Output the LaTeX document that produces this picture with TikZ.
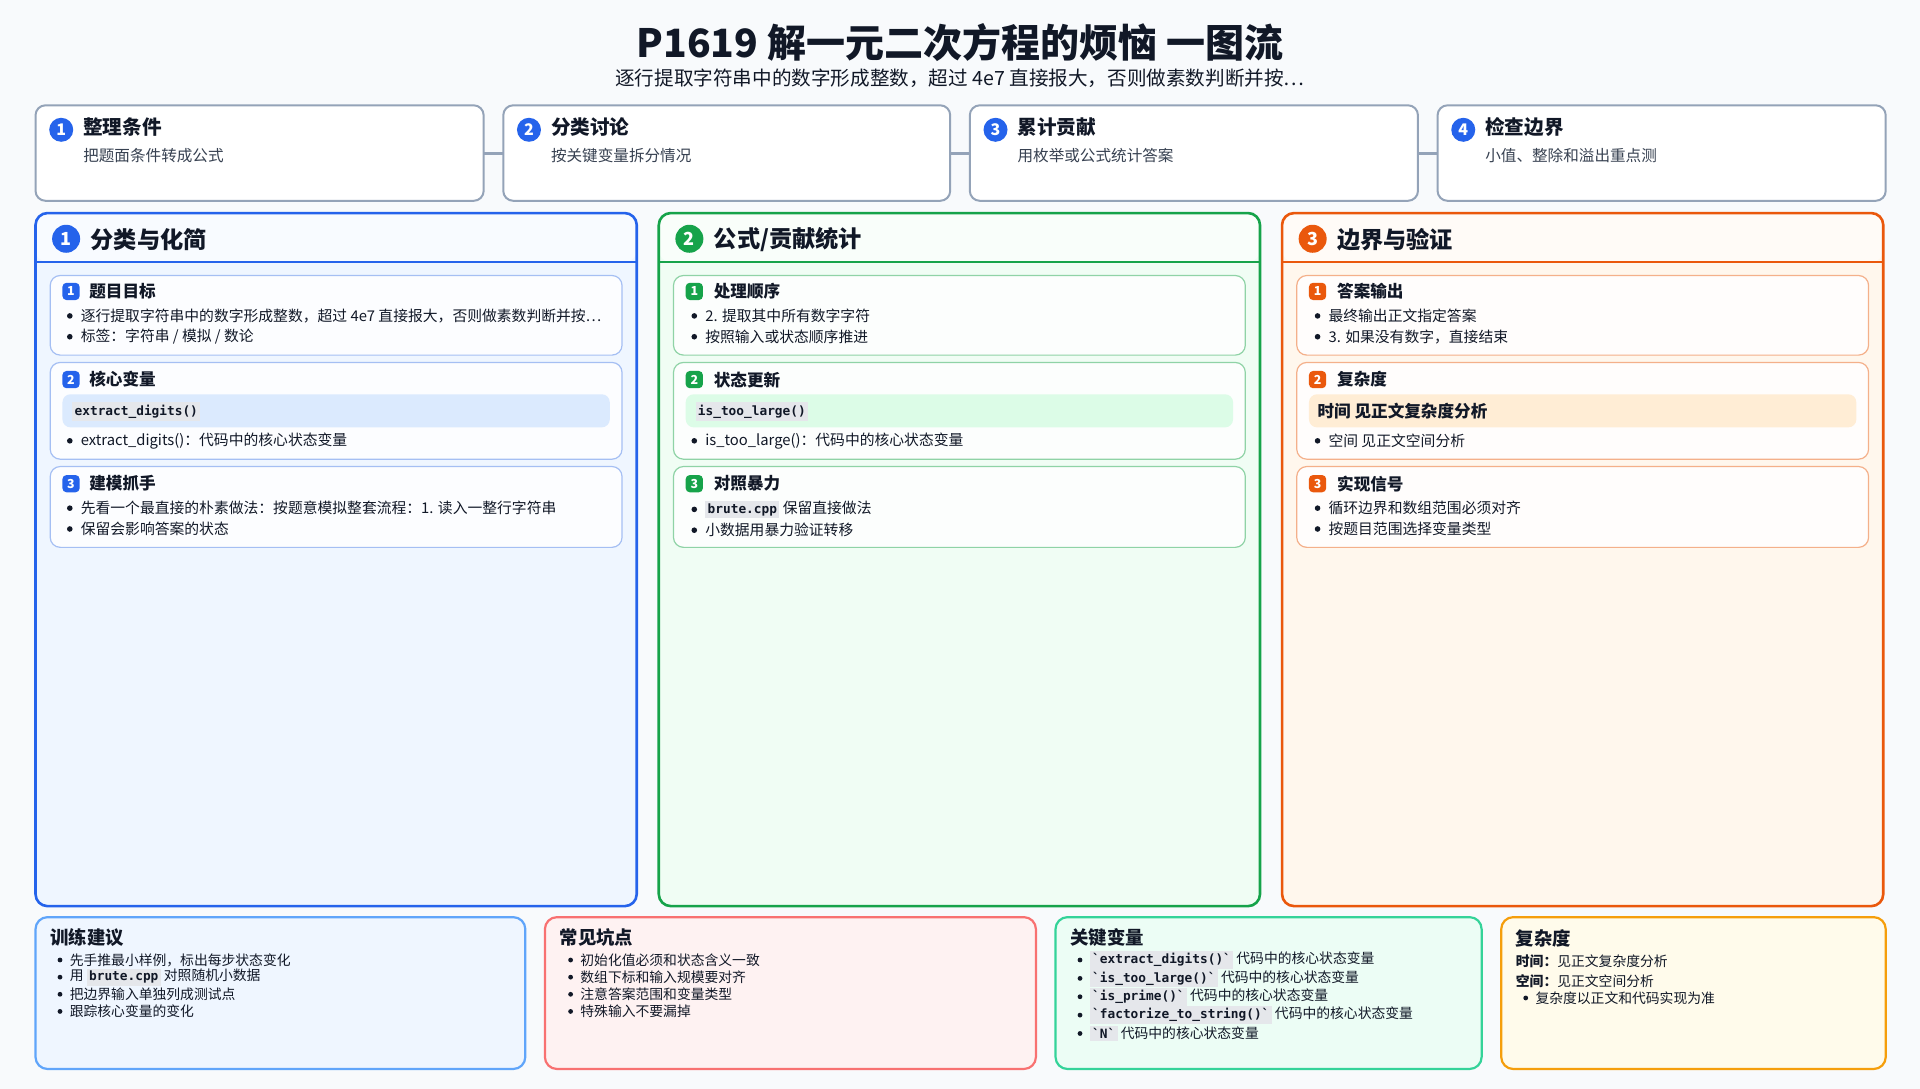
\documentclass[tikz,border=0pt]{standalone}
\usepackage{fontspec}
\setmainfont{Noto Sans CJK SC}
\setmonofont{DejaVu Sans Mono}
\usetikzlibrary{positioning}

\definecolor{bg}{HTML}{F8FAFC}
\definecolor{ink}{HTML}{111827}
\definecolor{sub}{HTML}{374151}
\definecolor{gray}{HTML}{94A3B8}
\definecolor{cblue}{HTML}{2563EB}
\definecolor{cgreen}{HTML}{16A34A}
\definecolor{corange}{HTML}{EA580C}
\definecolor{fblue}{HTML}{EFF6FF}
\definecolor{fgreen}{HTML}{F0FDF4}
\definecolor{forange}{HTML}{FFF7ED}
\definecolor{lblue}{HTML}{A5BFF3}
\definecolor{lgreen}{HTML}{8FD3A6}
\definecolor{lorange}{HTML}{F4B08A}
\definecolor{hblue}{HTML}{DBEAFE}
\definecolor{hgreen}{HTML}{DCFCE7}
\definecolor{horange}{HTML}{FFEDD5}
\definecolor{codebg}{HTML}{E5E7EB}
\definecolor{bblue}{HTML}{60A5FA}
\definecolor{bred}{HTML}{F87171}
\definecolor{fred}{HTML}{FEF2F2}
\definecolor{bteal}{HTML}{34D399}
\definecolor{fteal}{HTML}{ECFDF5}
\definecolor{bamber}{HTML}{F59E0B}
\definecolor{famber}{HTML}{FFFBEB}

\newcommand\un{0.6122pt}
\newcommand\fs[1]{\fontsize{#1}{#1}\selectfont}
\newcommand\cd[1]{{\setlength{\fboxsep}{1.2pt}\colorbox{codebg}{\ttfamily\bfseries\fs{6.4}#1}}}
% box from (x1,y1) to (x2,y2)
\newcommand\bx[6]{\node[#6, anchor=north west, minimum width={(#4-#2)*\un}, minimum height={(#5-#3)*\un}] (#1) at (#2,#3) {};}
% bullet line
\newcommand\bl[3]{\node[dot] at (#1,#2) {}; \node[txt, anchor=west] at (#1+9,#2) {#3};}
\newcommand\bs[3]{\node[dot, minimum size=2.4pt] at (#1,#2) {}; \node[small, anchor=west] at (#1+8,#2) {#3};}

\begin{document}
\begin{tikzpicture}[x=0.6122pt, y=-0.6122pt,
    every node/.style={inner sep=0pt, outer sep=0pt, text=ink},
    txt/.style={font=\fs{7.4}},
    small/.style={font=\fs{6.9}},
    dot/.style={circle, fill=ink, minimum size=2.8pt},
    stepbox/.style={draw=gray, line width=1pt, fill=white, rounded corners=5pt},
    panel/.style={draw=#1, line width=1.3pt, rounded corners=6pt},
    card/.style={draw=#1, line width=0.6pt, fill=white, fill opacity=0.85, text opacity=1, rounded corners=5pt},
    badge/.style={circle, fill=#1, text=white, minimum size=12pt, font=\bfseries\fs{8}},
    sbadge/.style={rounded corners=2pt, fill=#1, text=white, minimum size=8.6pt, font=\bfseries\fs{6.2}},
    note/.style={draw=#1, line width=1.1pt, rounded corners=6pt}]

  \fill[bg] (0,0) rectangle (1568,889);
  \useasboundingbox (0,0) rectangle (1568,889);

  %%% title %%%
  \node (title) at (784,35) {\bfseries\fs{19.5}P1619 解一元二次方程的烦恼 一图流};
  \node (subt) at (784,64) {\fs{9.8}逐行提取字符串中的数字形成整数，超过 4e7 直接报大，否则做素数判断并按…};

  %%% steps %%%
  \bx{s1}{29}{86}{395}{164}{stepbox}
  \bx{s2}{411}{86}{776}{164}{stepbox}
  \bx{s3}{792}{86}{1158}{164}{stepbox}
  \bx{s4}{1174}{86}{1540}{164}{stepbox}
  \foreach \a/\b in {s1/s2, s2/s3, s3/s4}{ \draw[gray, line width=1.5pt] (\a.east) -- (\b.west); }
  \foreach \n/\x/\t/\s in {1/29/整理条件/把题面条件转成公式, 2/411/分类讨论/按关键变量拆分情况,
                           3/792/累计贡献/用枚举或公式统计答案, 4/1174/检查边界/小值、整除和溢出重点测}{
    \node[badge=cblue] (sb\n) at (\x+21,106) {\n};
    \node[anchor=west, font=\bfseries\fs{9.8}] at (\x+39,104) {\t};
    \node[anchor=west, font=\fs{7.8}, text=sub] at (\x+39,127) {\s};
  }

  %%% panels %%%
  \foreach \n/\x/\c/\f/\t in {1/29/cblue/fblue/分类与化简, 2/538/cgreen/fgreen/{公式/贡献统计}, 3/1047/corange/forange/边界与验证}{
    \fill[\f, rounded corners=6pt] (\x,174) rectangle (\x+491,740);
    \fill[white, opacity=0.6, rounded corners=6pt] (\x,174) rectangle (\x+491,214);
    \draw[\c, line width=1.3pt] (\x,214) -- (\x+491,214);
    \bx{p\n}{\x}{174}{\x+491}{740}{panel=\c}
    \node[badge=\c, minimum size=14pt, font=\bfseries\fs{9}] (pb\n) at (\x+25,195) {\n};
    \node[anchor=west, font=\bfseries\fs{11.6}] at (\x+45,196) {\t};
  }

  %%% cards %%%
  \foreach \x/\c/\l/\h in {41/cblue/lblue/hblue, 550/cgreen/lgreen/hgreen, 1059/corange/lorange/horange}{
    \bx{c\x a}{\x}{225}{\x+467}{290}{card=\l}
    \bx{c\x b}{\x}{296}{\x+467}{375}{card=\l}
    \bx{c\x c}{\x}{381}{\x+467}{447}{card=\l}
    \foreach \k/\y in {1/238, 2/310, 3/395}{ \node[sbadge=\c] at (\x+17,\y) {\k}; }
    \fill[\h, rounded corners=4pt] (\x+10,322) rectangle (\x+457,349);
  }

  % panel 1
  \node[anchor=west, font=\bfseries\fs{8.3}] at (73,238) {题目目标};
  \bl{57}{258}{逐行提取字符串中的数字形成整数，超过 4e7 直接报大，否则做素数判断并按…}
  \bl{57}{275}{标签：字符串 / 模拟 / 数论}
  \node[anchor=west, font=\bfseries\fs{8.3}] at (73,310) {核心变量};
  \node[anchor=west] at (59,336) {\cd{extract\_digits()}};
  \bl{57}{360}{extract\_digits()：代码中的核心状态变量}
  \node[anchor=west, font=\bfseries\fs{8.3}] at (73,395) {建模抓手};
  \bl{57}{415}{先看一个最直接的朴素做法：按题意模拟整套流程：1. 读入一整行字符串}
  \bl{57}{432}{保留会影响答案的状态}

  % panel 2
  \node[anchor=west, font=\bfseries\fs{8.3}] at (583,238) {处理顺序};
  \bl{567}{258}{2. 提取其中所有数字字符}
  \bl{567}{275}{按照输入或状态顺序推进}
  \node[anchor=west, font=\bfseries\fs{8.3}] at (583,310) {状态更新};
  \node[anchor=west] at (568,336) {\cd{is\_too\_large()}};
  \bl{567}{360}{is\_too\_large()：代码中的核心状态变量}
  \node[anchor=west, font=\bfseries\fs{8.3}] at (583,395) {对照暴力};
  \bl{567}{416}{\cd{brute.cpp} 保留直接做法}
  \bl{567}{433}{小数据用暴力验证转移}

  % panel 3
  \node[anchor=west, font=\bfseries\fs{8.3}] at (1092,238) {答案输出};
  \bl{1076}{258}{最终输出正文指定答案}
  \bl{1076}{275}{3. 如果没有数字，直接结束}
  \node[anchor=west, font=\bfseries\fs{8.3}] at (1092,310) {复杂度};
  \node[anchor=west, font=\bfseries\fs{8.3}] at (1076,336) {时间 见正文复杂度分析};
  \bl{1076}{360}{空间 见正文空间分析}
  \node[anchor=west, font=\bfseries\fs{8.3}] at (1092,395) {实现信号};
  \bl{1076}{415}{循环边界和数组范围必须对齐}
  \bl{1076}{432}{按题目范围选择变量类型}

  %%% notes %%%
  \foreach \n/\a/\b/\c/\f/\t in {1/29/429/bblue/fblue/训练建议, 2/445/846/bred/fred/常见坑点,
                                 3/862/1210/bteal/fteal/关键变量, 4/1226/1540/bamber/famber/复杂度}{
    \fill[\f, rounded corners=6pt] (\a,749) rectangle (\b,873);
    \bx{n\n}{\a}{749}{\b}{873}{note=\c}
    \node[anchor=west, font=\bfseries\fs{9.2}] at (\a+12,766) {\t};
  }
  \bs{49}{784}{先手推最小样例，标出每步状态变化}
  \bs{49}{798}{用 \cd{brute.cpp} 对照随机小数据}
  \bs{49}{812}{把边界输入单独列成测试点}
  \bs{49}{826}{跟踪核心变量的变化}
  \bs{466}{784}{初始化值必须和状态含义一致}
  \bs{466}{798}{数组下标和输入规模要对齐}
  \bs{466}{812}{注意答案范围和变量类型}
  \bs{466}{826}{特殊输入不要漏掉}
  \bs{882}{784}{\cd{`extract\_digits()`} 代码中的核心状态变量}
  \bs{882}{799}{\cd{`is\_too\_large()`} 代码中的核心状态变量}
  \bs{882}{814}{\cd{`is\_prime()`} 代码中的核心状态变量}
  \bs{882}{829}{\cd{`factorize\_to\_string()`} 代码中的核心状态变量}
  \bs{882}{844}{\cd{`N`} 代码中的核心状态变量}
  \node[anchor=west, small] at (1238,785) {\bfseries 时间：\mdseries 见正文复杂度分析};
  \node[anchor=west, small] at (1238,801) {\bfseries 空间：\mdseries 见正文空间分析};
  \bs{1246}{815}{复杂度以正文和代码实现为准}

\end{tikzpicture}
\end{document}
